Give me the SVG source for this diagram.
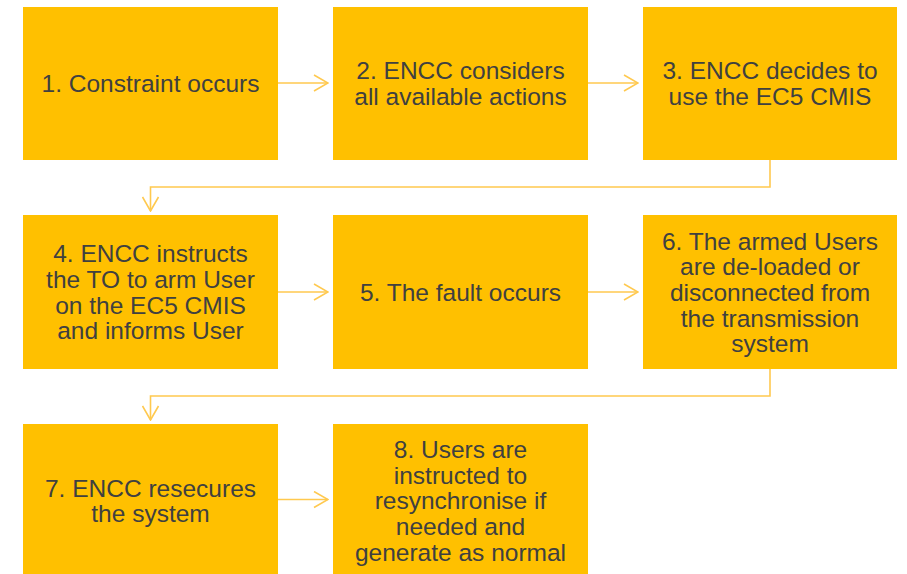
<svg xmlns="http://www.w3.org/2000/svg" width="907" height="574" viewBox="0 0 907 574">
<defs>
<style>
.box{fill:#FFC000;}
.t{font-family:"Liberation Sans",Arial,sans-serif;font-size:24.5px;fill:#404040;text-anchor:middle;}
.c{fill:none;stroke:#FFC94F;stroke-width:1.6;}
</style>
<marker id="ah" viewBox="0 0 16 18" refX="15" refY="9" markerWidth="16" markerHeight="18" markerUnits="userSpaceOnUse" orient="auto">
<path d="M1,1 L15,9 L1,17" fill="none" stroke="#FFC94F" stroke-width="1.6"/>
</marker>
</defs>
<rect width="907" height="574" fill="#FFFFFF"/>
<g id="connectors">
<path class="c" d="M278,83 H328" marker-end="url(#ah)"/>
<path class="c" d="M588,83 H638" marker-end="url(#ah)"/>
<path class="c" d="M770,160 V187 H150.5 V211" marker-end="url(#ah)"/>
<path class="c" d="M278,292 H328" marker-end="url(#ah)"/>
<path class="c" d="M588,292 H638" marker-end="url(#ah)"/>
<path class="c" d="M770,369 V396 H150.5 V420" marker-end="url(#ah)"/>
<path class="c" d="M278,499.5 H328" marker-end="url(#ah)"/>
</g>
<g id="n1"><rect class="box" x="23" y="7" width="255" height="153"/>
<text class="t" x="150.5" y="92">1. Constraint occurs</text></g>
<g id="n2"><rect class="box" x="333" y="7" width="255" height="153"/>
<text class="t" x="460.5" y="79">2. ENCC considers</text>
<text class="t" x="460.5" y="105">all available actions</text></g>
<g id="n3"><rect class="box" x="643" y="7" width="254" height="153"/>
<text class="t" x="770" y="79">3. ENCC decides to</text>
<text class="t" x="770" y="105">use the EC5 CMIS</text></g>
<g id="n4"><rect class="box" x="23" y="215" width="255" height="154"/>
<text class="t" x="150.5" y="262">4. ENCC instructs</text>
<text class="t" x="150.5" y="288">the TO to arm User</text>
<text class="t" x="150.5" y="313.5">on the EC5 CMIS</text>
<text class="t" x="150.5" y="339">and informs User</text></g>
<g id="n5"><rect class="box" x="333" y="215" width="255" height="154"/>
<text class="t" x="460.5" y="301">5. The fault occurs</text></g>
<g id="n6"><rect class="box" x="643" y="215" width="254" height="154"/>
<text class="t" x="770" y="249.5">6. The armed Users</text>
<text class="t" x="770" y="275">are de-loaded or</text>
<text class="t" x="770" y="301">disconnected from</text>
<text class="t" x="770" y="326.5">the transmission</text>
<text class="t" x="770" y="352">system</text></g>
<g id="n7"><rect class="box" x="23" y="424" width="255" height="150"/>
<text class="t" x="150.5" y="496.5">7. ENCC resecures</text>
<text class="t" x="150.5" y="522">the system</text></g>
<g id="n8"><rect class="box" x="333" y="424" width="255" height="150"/>
<text class="t" x="460.5" y="457.5">8. Users are</text>
<text class="t" x="460.5" y="483.5">instructed to</text>
<text class="t" x="460.5" y="509">resynchronise if</text>
<text class="t" x="460.5" y="535">needed and</text>
<text class="t" x="460.5" y="560.5">generate as normal</text></g>
</svg>
